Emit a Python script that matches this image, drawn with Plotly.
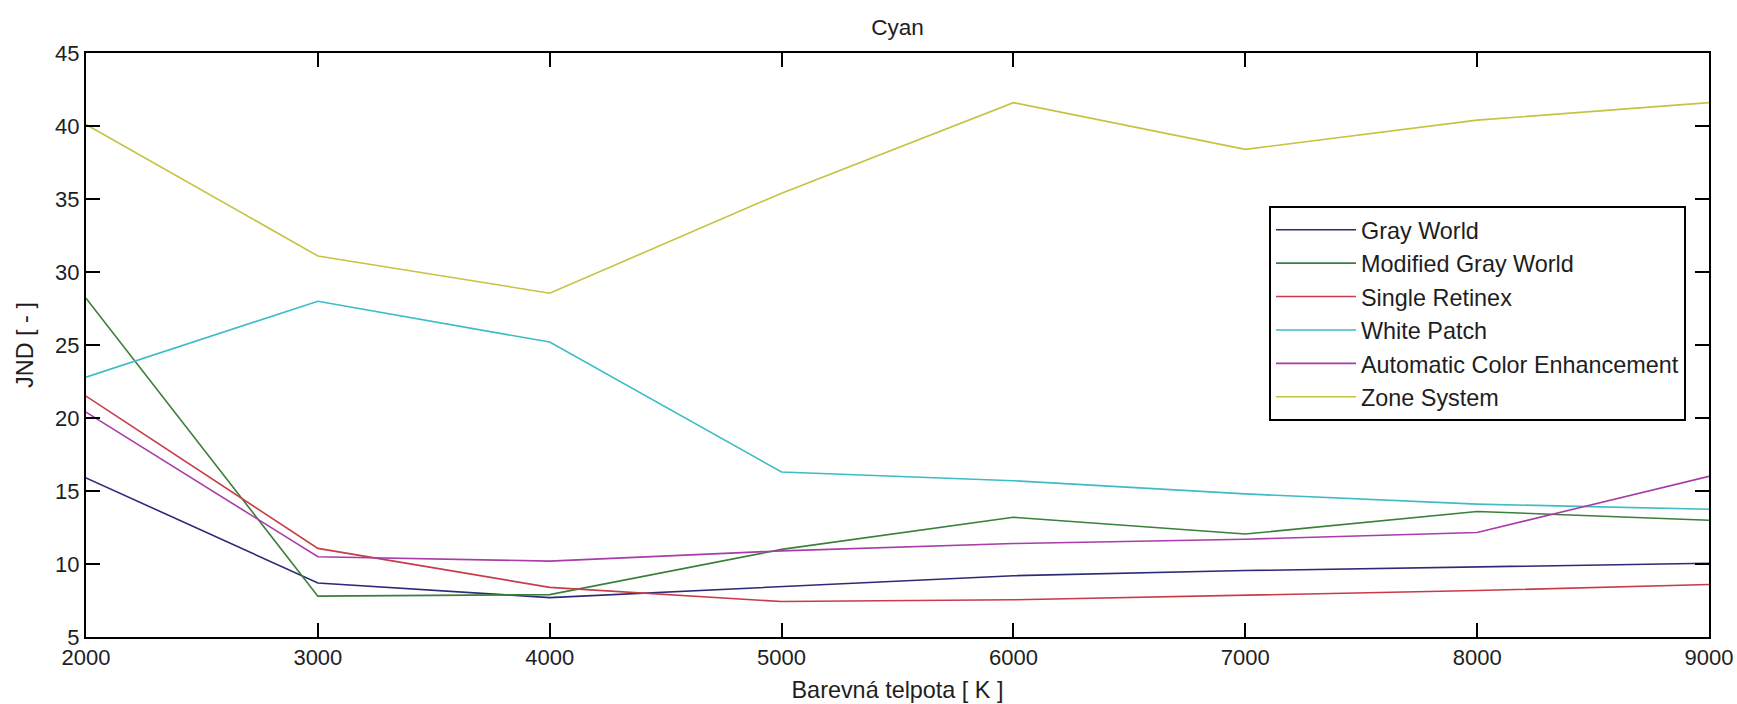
import plotly.graph_objects as go

# Colour temperature in kelvin
temps = [2000, 3000, 4000, 5000, 6000, 7000, 8000, 9000]

# JND per white-balance method
gray_world = [15.9, 8.7, 7.7, 8.45, 9.2, 9.55, 9.8, 10.05]
modified_gray_world = [28.2, 7.8, 7.9, 11.0, 13.2, 12.05, 13.6, 13.0]
single_retinex = [21.5, 11.07, 8.4, 7.43, 7.55, 7.84, 8.18, 8.6]
white_patch = [22.8, 28.0, 25.2, 16.3, 15.7, 14.8, 14.1, 13.75]
ace = [20.4, 10.5, 10.2, 10.9, 11.4, 11.7, 12.16, 16.0]
zone_system = [40.1, 31.1, 28.55, 35.4, 41.6, 38.4, 40.4, 41.6]

series = [
    ("Gray World", gray_world, "#2b2b78"),
    ("Modified Gray World", modified_gray_world, "#3a7f3a"),
    ("Single Retinex", single_retinex, "#c83c48"),
    ("White Patch", white_patch, "#3cbcc4"),
    ("Automatic Color Enhancement", ace, "#a83ca8"),
    ("Zone System", zone_system, "#c4c440"),
]

x_ticks = [2000, 3000, 4000, 5000, 6000, 7000, 8000, 9000]
y_ticks = [5, 10, 15, 20, 25, 30, 35, 40, 45]

FONT = "Liberation Sans, Arial, sans-serif"
TEXT = "#1e1e1e"

fig = go.Figure()
for i, (name, vals, color) in enumerate(series):
    fig.add_trace(go.Scatter(
        x=temps, y=vals, name=name, mode="lines",
        line=dict(color=color, width=1.6),
    ))

W, H = 1737, 704
L, R, T, B = 86, 28, 53, 67

axis_common = dict(
    showline=True, linecolor="black", linewidth=2, mirror="ticks",
    ticks="inside", ticklen=14, tickwidth=1.5, tickcolor="black",
    showgrid=False, zeroline=False,
    tickfont=dict(family=FONT, size=22, color=TEXT),
)

fig.update_layout(
    width=W, height=H,
    margin=dict(l=L, r=R, t=T, b=B, autoexpand=False),
    paper_bgcolor="white", plot_bgcolor="white",
    font=dict(family=FONT, size=22, color=TEXT),
    title=dict(text="Cyan", x=(L + (W - R)) / 2 / W, xanchor="center",
               y=1 - 27 / H, yanchor="middle", yref="container",
               font=dict(family=FONT, size=22.6, color=TEXT)),
    xaxis=dict(range=[2000, 9000], tickvals=x_ticks,
               title=dict(text="Barevná telpota [ K ]", standoff=12,
                          font=dict(family=FONT, size=23.4, color=TEXT)),
               **axis_common),
    yaxis=dict(range=[5, 45], tickvals=y_ticks,
               title=dict(text="JND [ - ]", standoff=15,
                          font=dict(family=FONT, size=23.4, color=TEXT)),
               **axis_common),
    legend=dict(
        x=(1269 - L) / (W - L - R), y=(H - B - 206) / (H - T - B),
        xanchor="left", yanchor="top",
        bgcolor="white", bordercolor="black", borderwidth=2,
        font=dict(family=FONT, size=23.4, color=TEXT),
        itemwidth=80,
    ),
    showlegend=True,
)

fig.write_html("out.html")
